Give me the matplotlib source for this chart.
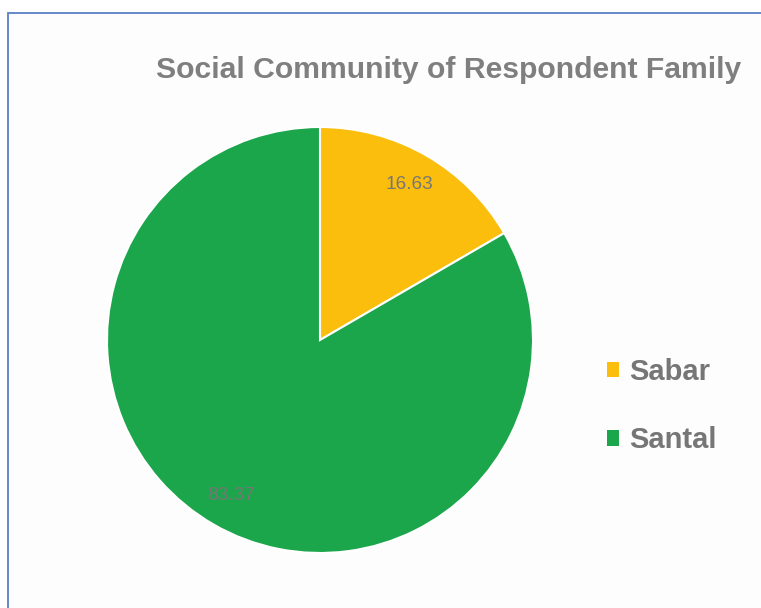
import matplotlib
matplotlib.use('Agg')
import matplotlib.pyplot as plt
from matplotlib.patches import Patch, Rectangle

plt.rcParams['font.family'] = ['Liberation Sans', 'DejaVu Sans']

# data
communities = ['Sabar', 'Santal']
shares = [16.63, 83.37]
colors = ['#FCBE0C', '#1BA64B']
title = 'Social Community of Respondent Family'

W, H = 761, 608
fig = plt.figure(figsize=(W / 100, H / 100), dpi=100)
fig.patch.set_facecolor('white')

# chart area frame (clipped at right/bottom like the screenshot)
fig.patches.append(Rectangle((8 / W, -0.05), 1.1, 1 - 13 / H + 0.05,
                             transform=fig.transFigure, facecolor='#FDFDFD',
                             edgecolor='#5B7FC4', linewidth=1.3, zorder=-5))

cx, cy, r = 320, 340, 213
ax = fig.add_axes([(cx - r) / W, (H - cy - r) / H, 2 * r / W, 2 * r / H])
ax.set_zorder(2)
wedges, texts, autotexts = ax.pie(
    shares, colors=colors, startangle=90, counterclock=False,
    autopct=lambda p: f'{p:.2f}', pctdistance=0.84, radius=1,
    wedgeprops=dict(edgecolor='white', linewidth=1.5))
for t in autotexts:
    t.set_color('#767676')
    t.set_fontsize(13.7)
ax.set_xlim(-1, 1)
ax.set_ylim(-1, 1)
ax.set_aspect('equal')
ax.axis('off')

fig.text(448.5 / W, 1 - 70 / H, title, ha='center', va='center',
         fontsize=21.7, fontweight='bold', color='#7F7F7F')

handles = [Patch(facecolor=c, edgecolor='none') for c in colors]
leg = fig.legend(handles, communities, loc='center left',
                 bbox_to_anchor=(607 / W, 1 - 406 / H), frameon=False,
                 prop=dict(size=21, weight='bold'), labelcolor='#767676',
                 handlelength=0.42, handleheight=0.42, handletextpad=0.35,
                 labelspacing=1.4, borderpad=0, borderaxespad=0)
leg.set_zorder(3)

fig.savefig('out.png', dpi=100)
